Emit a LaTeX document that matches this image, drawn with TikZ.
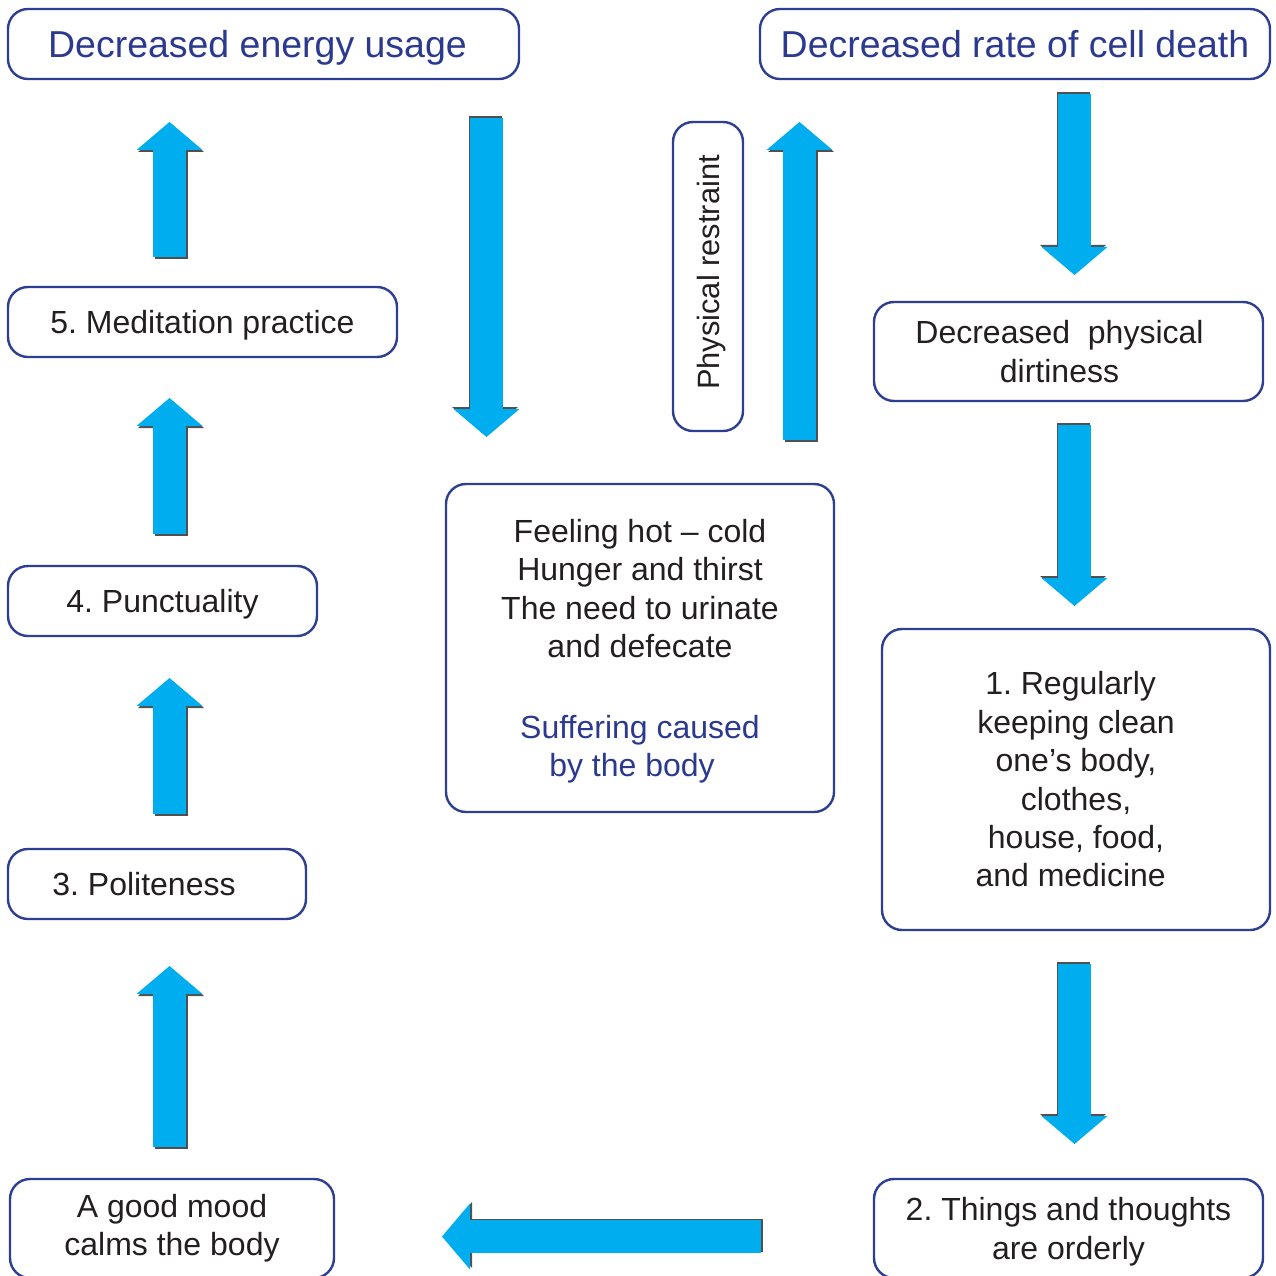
\documentclass[tikz,border=0pt]{standalone}
\usepackage{fontspec}
\setmainfont{Liberation Sans}
\usetikzlibrary{arrows.meta}

\definecolor{frameblue}{HTML}{2E3F92}
\definecolor{titleblue}{HTML}{2B3A8F}
\definecolor{arrowcyan}{HTML}{00AEEF}
\definecolor{arrowshade}{HTML}{505050}
\definecolor{inkblack}{HTML}{231F20}

\tikzset{
  box/.style={draw=frameblue, line width=1.8pt, rounded corners=15pt, fill=white,
    align=center, text=inkblack, font=\fontsize{24}{28.8}\selectfont, inner sep=0pt},
  titlebox/.style={box, text=titleblue, font=\fontsize{28.1}{33}\selectfont},
  flowbody/.style={draw=arrowcyan, line width=24.75pt,
    -{Triangle[length=21pt,width=49.5pt,line width=0pt]}},
  flowshade/.style={flowbody, draw=arrowshade},
}

% block arrow: shade copy slightly offset, then the cyan body
\newcommand\flow[3]{%
  \draw[flowshade, transform canvas={shift={#3}}] (#1) -- (#2);
  \draw[flowbody] (#1) -- (#2);}

\begin{document}
\frenchspacing
\begin{tikzpicture}[x=0.75pt,y=-0.75pt]
\useasboundingbox (0,0) rectangle (1275,1276);
\clip (0,0) rectangle (1275,1276);

% boxes
\node[titlebox, text depth=0pt, minimum width=383.25pt, minimum height=52.5pt] (energy) at (263.5,44)
  {Decreased energy usage\hspace*{9pt}};
\node[titlebox, minimum width=382.5pt, minimum height=52.5pt] (death) at (1015,44)
  {Decreased rate of cell death};
\node[box, text depth=0pt, minimum width=291.75pt, minimum height=52.5pt] (med) at (202.5,322)
  {5. Meditation practice};
\node[box, text depth=0pt, minimum width=231.75pt, minimum height=52.5pt] (punct) at (162.5,601)
  {4. Punctuality};
\node[box, minimum width=223.5pt, minimum height=52.5pt] (polite) at (157,884)
  {3. Politeness\hspace*{19.5pt}};
\node[box, minimum width=243pt, minimum height=74.25pt] (mood) at (172,1228.5)
  {A good mood\\calms the body};
\node[box, text depth=0pt, minimum width=291.75pt, minimum height=74.25pt] (orderly) at (1068.5,1228.5)
  {2. Things and thoughts\\are orderly};
\node[box, minimum width=291pt, minimum height=225.75pt] (clean) at (1076,779.5)
  {1. Regularly\hspace*{8pt}\\keeping clean\hspace*{8pt}\\one’s body,\hspace*{8pt}\\clothes,\hspace*{8pt}\\house, food,\hspace*{8pt}\\and medicine\hspace*{8pt}};
\node[box, minimum width=291.75pt, minimum height=74.25pt] (dirt) at (1068.5,351.5)
  {Decreased\ \ physical\hspace*{13.5pt}\\dirtiness\hspace*{13.5pt}};
\node[box, text depth=0pt, minimum width=291pt, minimum height=246pt] (suffer) at (640,648)
  {Feeling hot – cold\\Hunger and thirst\\The need to urinate\\and defecate\\[31.95pt]
   \textcolor{titleblue}{Suffering caused}\hspace*{6pt}\\\textcolor{titleblue}{by the body}\hspace*{12pt}};
\node[box, rotate=90, text depth=0pt, font=\fontsize{23.1}{27.7}\selectfont,
  minimum width=231.75pt, minimum height=52.5pt] (phys) at (708,276.5)
  {\hspace*{6pt}Physical restraint};

% arrow end points
\coordinate (a1s) at (169.5,257);  \coordinate (a1e) at (169.5,122);
\coordinate (a2s) at (169.5,534);  \coordinate (a2e) at (169.5,398);
\coordinate (a3s) at (169.5,814);  \coordinate (a3e) at (169.5,678);
\coordinate (a4s) at (169.5,1147); \coordinate (a4e) at (169.5,966);
\coordinate (d1s) at (486.5,118);  \coordinate (d1e) at (486.5,437);
\coordinate (u1s) at (799.5,440);  \coordinate (u1e) at (799.5,122);
\coordinate (r1s) at (1074.5,94);  \coordinate (r1e) at (1074.5,275);
\coordinate (r2s) at (1074.5,425); \coordinate (r2e) at (1074.5,606);
\coordinate (r3s) at (1074.5,964); \coordinate (r3e) at (1074.5,1144);
\coordinate (bls) at (761,1236.5); \coordinate (ble) at (442,1236.5);

% arrows
\flow{a1s}{a1e}{(1.5,2)}
\flow{a2s}{a2e}{(1.5,2)}
\flow{a3s}{a3e}{(1.5,2)}
\flow{a4s}{a4e}{(1.5,2)}
\flow{u1s}{u1e}{(1.5,2)}
\flow{d1s}{d1e}{(-1.5,-2)}
\flow{r1s}{r1e}{(-1.5,-2)}
\flow{r2s}{r2e}{(-1.5,-2)}
\flow{r3s}{r3e}{(-1.5,-2)}
\flow{bls}{ble}{(2,-1.5)}
\end{tikzpicture}
\end{document}
